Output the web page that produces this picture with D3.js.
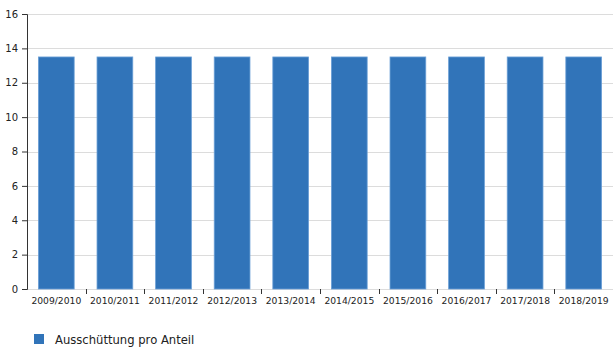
<!DOCTYPE html>
<html>
<head>
<meta charset="utf-8">
<script src="https://cdn.jsdelivr.net/npm/d3@7"></script>
<style>
  html, body { margin: 0; padding: 0; background: #fff; }
  svg { display: block; font-family: "DejaVu Sans", sans-serif; }
</style>
</head>
<body>
<svg id="chart" width="613" height="349"></svg>
<script>
// Distribution per share, by fiscal year
const years = ["2009/2010", "2010/2011", "2011/2012", "2012/2013", "2013/2014",
               "2014/2015", "2015/2016", "2016/2017", "2017/2018", "2018/2019"];
const payout = [13.5, 13.5, 13.5, 13.5, 13.5, 13.5, 13.5, 13.5, 13.5, 13.5];
const yTicks = [0, 2, 4, 6, 8, 10, 12, 14, 16];
const seriesName = "Ausschüttung pro Anteil";

const svg = d3.select("#chart");
const margin = { top: 14, right: 0, bottom: 60, left: 27 };
const W = 613, H = 349;
const innerW = W - margin.left - margin.right;
const innerH = H - margin.top - margin.bottom;

const x = d3.scaleBand().domain(years).range([0, innerW]).paddingInner(0.39).paddingOuter(0.195);
const y = d3.scaleLinear().domain([0, 16]).range([innerH, 0]);

const g = svg.append("g").attr("transform", `translate(${margin.left},${margin.top})`);

// horizontal gridlines
g.append("g").selectAll("line").data(yTicks).join("line")
  .attr("x1", 0).attr("x2", innerW)
  .attr("y1", d => Math.round(y(d)) + 0.5).attr("y2", d => Math.round(y(d)) + 0.5)
  .attr("stroke", "#dcdcdc").attr("stroke-width", 1);

// bars
g.append("g").selectAll("rect").data(payout).join("rect")
  .attr("x", (d, i) => x(years[i]))
  .attr("y", d => y(d))
  .attr("width", x.bandwidth())
  .attr("height", d => innerH - y(d))
  .attr("fill", "#3174b9")
  .attr("stroke", "#6a9fd6")
  .attr("stroke-width", 0.8);

// y axis
const yAxis = g.append("g")
  .call(d3.axisLeft(y).tickValues(yTicks).tickSize(5).tickPadding(4).tickFormat(d3.format("d")));
yAxis.select(".domain").attr("stroke", "#333");
yAxis.selectAll(".tick line").attr("stroke", "#333");
yAxis.selectAll("text").attr("font-size", 10).attr("fill", "#222")
  .attr("font-family", "DejaVu Sans, sans-serif");

// x axis with ticks between categories
const xAxis = g.append("g").attr("transform", `translate(0,${innerH})`)
  .call(d3.axisBottom(x).tickSize(0).tickPadding(8));
xAxis.select(".domain").remove();
xAxis.selectAll("text").attr("font-size", 9.2).attr("fill", "#222")
  .attr("font-family", "DejaVu Sans, sans-serif");
const step = x.step();
const bounds = years.slice(1).map(d => x(d) - step * x.paddingInner() / 2);
xAxis.append("g").selectAll("line").data(bounds).join("line")
  .attr("x1", d => Math.round(d) + 0.5).attr("x2", d => Math.round(d) + 0.5)
  .attr("y1", 0).attr("y2", 5)
  .attr("stroke", "#333");

// legend
const leg = svg.append("g").attr("transform", "translate(34,334)");
leg.append("rect").attr("width", 10).attr("height", 10).attr("fill", "#3174b9");
leg.append("text").attr("x", 21).attr("y", 10).attr("font-size", 11.6).attr("fill", "#222")
  .text(seriesName);
</script>
</body>
</html>
